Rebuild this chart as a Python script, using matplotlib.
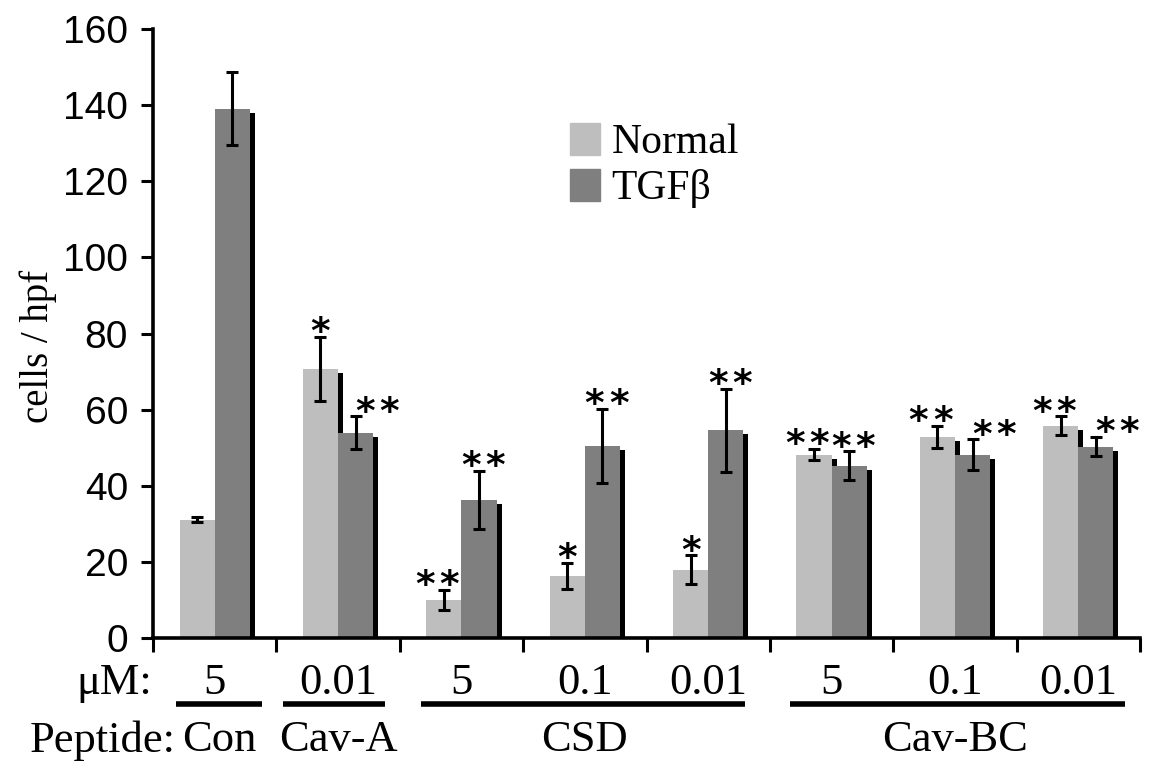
import matplotlib
matplotlib.use("Agg")
import matplotlib.pyplot as plt
import matplotlib.transforms as mtransforms
from matplotlib.patches import Patch
import numpy as np

## data
doses = ["5", "0.01", "5", "0.1", "0.01", "5", "0.1", "0.01"]
peptides = ["Con", "Cav-A", "CSD", "Cav-BC"]
peptide_start = [0, 1, 2, 5]
peptide_end = [1, 2, 5, 8]

normal = [31.1, 70.7, 10.0, 16.3, 17.9, 48.2, 52.9, 55.8]
normal_err = [0.75, 8.5, 2.7, 3.5, 3.8, 1.5, 2.9, 2.4]
tgf = [139.0, 53.9, 36.3, 50.4, 54.6, 45.3, 48.2, 50.3]
tgf_err = [9.6, 4.3, 7.6, 9.8, 10.9, 3.7, 4.0, 2.5]

# number of asterisks above each bar
normal_sig = [0, 1, 2, 1, 1, 2, 2, 2]
tgf_sig = [0, 2, 2, 2, 2, 2, 2, 2]

serif = "Liberation Serif"
sans = "Liberation Sans"

fig = plt.figure(figsize=(11.51, 7.70), dpi=100)
ax = fig.add_axes([153 / 1151, 1 - 638 / 770, (1140 - 153) / 1151, (638 - 29) / 770])

x = np.arange(len(doses)) + 0.5
w = 0.285

## black drop shadow behind the bars
shadow = mtransforms.offset_copy(ax.transData, fig=fig, x=5, y=-4, units="dots")
ax.bar(x - w / 2, normal, w, color="black", transform=shadow, zorder=1)
ax.bar(x + w / 2, tgf, w, color="black", transform=shadow, zorder=1)

ax.bar(x - w / 2, normal, w, color="#bebebe", zorder=2, label="Normal")
ax.bar(x + w / 2, tgf, w, color="#7f7f7f", zorder=2, label="TGF\u03b2")

ax.errorbar(x - w / 2, normal, yerr=normal_err, fmt="none", ecolor="black",
            elinewidth=2.2, capsize=4.5, capthick=2.2, zorder=3)
ax.errorbar(x + w / 2, tgf, yerr=tgf_err, fmt="none", ecolor="black",
            elinewidth=2.2, capsize=4.5, capthick=2.2, zorder=3)

## significance stars
for i in range(len(doses)):
    for side, xc, val, err, n in [(-1, x[i] - w / 2, normal[i], normal_err[i], normal_sig[i]),
                                  (1, x[i] + w / 2, tgf[i], tgf_err[i], tgf_sig[i])]:
        if n == 0:
            continue
        # keep stars clear of a taller neighbouring bar
        if side > 0 and normal[i] > val + err:
            xc += 0.14
        if n == 1:
            offs = [0]
        else:
            shift = -5 if side < 0 else 3
            offs = [shift - 8.8, shift + 8.8]
        for dx in offs:
            ax.annotate("*", (xc, val + err), xytext=(dx, -4.5), textcoords="offset points",
                        ha="center", va="baseline", fontsize=27, family="DejaVu Sans",
                        fontweight="bold", zorder=4)

ax.set_xlim(0, len(doses))
ax.set_ylim(0, 160)
ax.set_yticks(range(0, 161, 20))
ax.set_xticks(range(0, len(doses) + 1))
ax.set_xticklabels([])
ax.tick_params(axis="y", direction="out", length=9, width=2.2, pad=9, labelsize=28)
ax.tick_params(axis="x", direction="out", length=10, width=2.2)
for lab in ax.get_yticklabels():
    lab.set_family(sans)
for side in ["top", "right"]:
    ax.spines[side].set_visible(False)
for side in ["left", "bottom"]:
    ax.spines[side].set_linewidth(2.6)

ax.set_ylabel("cells / hpf", fontsize=28, family=serif, labelpad=4, y=0.478)

## dose and peptide rows under the axis
tr = ax.get_xaxis_transform()
ax.text(-0.005, -0.074, "\u03bcM:", transform=tr, ha="right", va="center",
        fontsize=32, family=serif)
for xc, d in zip(x, doses):
    ax.text(xc, -0.074, d, transform=tr, ha="center", va="center",
            fontsize=32, family=serif)
ax.text(0.18, -0.168, "Peptide:", transform=tr, ha="right", va="center",
        fontsize=32, family=serif)
underline = [(0.19, 0.88), (1.05, 1.88), (2.17, 4.80), (5.16, 7.88)]
for name, (x0, x1) in zip(peptides, underline):
    ax.plot([x0, x1], [-0.108, -0.108], transform=tr, color="black",
            lw=4, solid_capstyle="butt", clip_on=False)
for name, a, b in zip(peptides, peptide_start, peptide_end):
    xm = (a + b) / 2 + (0.04 if a == 0 else 0)
    ax.text(xm, -0.168, name, transform=tr, ha="center", va="center",
            fontsize=32, family=serif)

handles = [Patch(color="#bebebe", label="Normal"), Patch(color="#7f7f7f", label="TGF\u03b2")]
ax.legend(handles=handles, loc="upper left", bbox_to_anchor=(570 / 1151, 1 - 123 / 770),
          bbox_transform=fig.transFigure, frameon=False, borderpad=0, borderaxespad=0,
          handlelength=0.72, handleheight=0.8, handletextpad=0.28, labelspacing=0.15,
          prop={"family": serif, "size": 30})

fig.savefig("out.png", dpi=100)
